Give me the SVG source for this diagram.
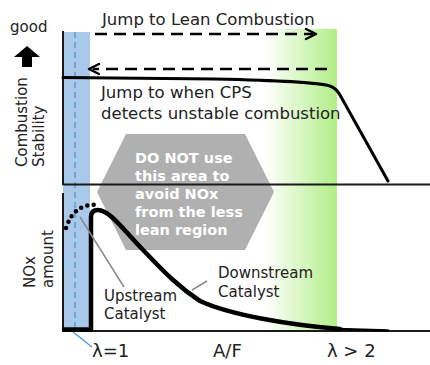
<svg xmlns="http://www.w3.org/2000/svg" width="430" height="365" viewBox="0 0 430 365">
  <defs>
    <linearGradient id="greenFade" gradientUnits="userSpaceOnUse" x1="265" y1="0" x2="335" y2="0">
      <stop offset="0" stop-color="#b3ee8a" stop-opacity="0"/>
      <stop offset="1" stop-color="#b3ee8a" stop-opacity="1"/>
    </linearGradient>
    <style>
      text { font-family: "DejaVu Sans", Verdana, sans-serif; fill: #222222; }
      .lbl { font-size: 15px; }
      .big { font-size: 16.5px; }
      .axis-lbl { font-size: 18px; }
      .hex-txt { font-size: 14.5px; font-weight: bold; fill: #ffffff; }
      .axis { stroke: #1a1a1a; stroke-width: 2; fill: none; }
      .curve { stroke: #000; fill: none; stroke-linejoin: round; stroke-linecap: round; }
      .dash { stroke: #000; stroke-width: 2.5; fill: none; stroke-dasharray: 12 7; }
      .head { stroke: #000; stroke-width: 2.5; fill: none; stroke-linecap: round; stroke-linejoin: round; }
      .pointer { stroke: #8a8a8a; stroke-width: 1.5; fill: none; }
    </style>
  </defs>

  <!-- background bands -->
  <g id="bands">
    <rect x="63" y="32" width="27" height="299" fill="#a9c8ea"/>
    <rect x="265" y="29" width="72" height="302" fill="url(#greenFade)"/>
    <line x1="75" y1="32" x2="75" y2="331" stroke="#5b9bd5" stroke-width="1.5" stroke-dasharray="6 4"/>
  </g>

  <!-- warning hexagon -->
  <g id="warning">
    <polygon points="126,134 245,134 274,192 245,250 126,250 97,192" fill="#b0b0b0"/>
  </g>

  <!-- axes -->
  <g id="axes">
    <line class="axis" x1="63" y1="31" x2="63" y2="185"/>
    <line class="axis" x1="63" y1="184.5" x2="430" y2="184.5"/>
    <line class="axis" x1="63" y1="193" x2="63" y2="332"/>
    <line class="axis" x1="63" y1="331" x2="430" y2="331"/>
  </g>

  <g id="warning-text">
    <text class="hex-txt" x="135" y="163">DO NOT use</text>
    <text class="hex-txt" x="135" y="181">this area to</text>
    <text class="hex-txt" x="135" y="199">avoid NOx</text>
    <text class="hex-txt" x="135" y="217">from the less</text>
    <text class="hex-txt" x="135" y="235">lean region</text>
  </g>

  <!-- connectors / curves -->
  <g id="connectors">
    <!-- combustion stability curve -->
    <path class="curve" stroke-width="3" d="M63,77.5 L215,79 C280,80.5 315,82 330,86 Q336,88 340,95 L388,181"/>
    <!-- jump to lean arrow -->
    <line class="dash" x1="95" y1="34" x2="314" y2="34"/>
    <polyline class="head" points="306,29 316,34 306,39"/>
    <!-- jump back arrow -->
    <line class="dash" x1="327" y1="69" x2="93" y2="69"/>
    <polyline class="head" points="99,64 89,69 99,74"/>
    <!-- downstream catalyst NOx curve -->
    <path class="curve" stroke-width="4.5" d="M64,329.5 H91 V217 Q91,210 98,210 C110,210 125,232 145,252 C165,273 180,288 200,301 C230,315 290,325 340,329"/>
    <path class="curve" stroke-width="2.5" d="M338,329 L388,330.5"/>
    <!-- upstream catalyst dotted curve -->
    <path class="curve" stroke-width="4.5" stroke-dasharray="0 6.5" d="M66,228 Q74,203 97,205"/>
    <!-- annotation pointers -->
    <line class="pointer" x1="80" y1="217" x2="124" y2="287"/>
    <line class="pointer" x1="192" y1="290" x2="207" y2="281"/>
    <line x1="73" y1="332" x2="92" y2="347" stroke="#5b9bd5" stroke-width="1.5"/>
  </g>

  <!-- labels -->
  <g id="y-axis-upper">
    <text class="lbl" x="10" y="32">good</text>
    <polygon points="27,46 40,57 32,57 32,67 22,67 22,57 14,57" fill="#000"/>
    <text class="lbl" transform="translate(27,167) rotate(-90)">Combustion</text>
    <text class="lbl" transform="translate(44,167) rotate(-90)">Stability</text>
  </g>
  <g id="y-axis-lower">
    <text class="lbl" transform="translate(35,288) rotate(-90)">NOx</text>
    <text class="lbl" transform="translate(53,288) rotate(-90)">amount</text>
  </g>
  <g id="jump-lean-label">
    <text class="big" x="102" y="25">Jump to Lean Combustion</text>
  </g>
  <g id="jump-back-label">
    <text class="big" x="101" y="98">Jump to when CPS</text>
    <text class="big" x="101" y="118.5">detects unstable combustion</text>
  </g>
  <g id="upstream-label">
    <text class="lbl" x="104" y="301">Upstream</text>
    <text class="lbl" x="104" y="319">Catalyst</text>
  </g>
  <g id="downstream-label">
    <text class="lbl" x="218" y="278">Downstream</text>
    <text class="lbl" x="218" y="297">Catalyst</text>
  </g>
  <g id="x-axis">
    <text class="axis-lbl" x="92" y="357">λ=1</text>
    <text class="axis-lbl" x="213" y="357">A/F</text>
    <text class="axis-lbl" x="327" y="357">λ &gt; 2</text>
  </g>
</svg>
